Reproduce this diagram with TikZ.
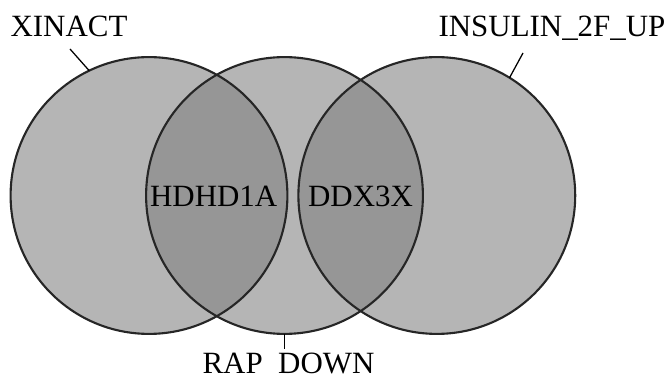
\documentclass[tikz,border=0pt]{standalone}
\usepackage{fontspec}
\setmainfont{Liberation Serif}
\usepackage{tikz}
\usepackage{xcolor}
\definecolor{setgray}{gray}{0.71}
\definecolor{overgray}{gray}{0.59}
\definecolor{rimgray}{gray}{0.15}

\begin{document}
\begin{tikzpicture}[
  setlabel/.style={font=\fontsize{22}{26}\selectfont, inner sep=0pt, anchor=base},
  rim/.style={draw=rimgray, line width=1.5pt},
  leader/.style={draw=black, line width=0.9pt}]
\def\rad{3.46}
\useasboundingbox(0,0)rectangle(16.725,9.5);
\coordinate(xin)at(3.725,4.6125);% centre of the left set
\coordinate(rap)at(7.1125,4.6125);% centre of the middle set
\coordinate(ins)at(10.92,4.6125);% centre of the right set
\fill[setgray](xin)circle(\rad) (rap)circle(\rad) (ins)circle(\rad);
\begin{scope}% the two overlaps, darker
\clip(rap)circle(\rad);
\fill[overgray](xin)circle(\rad) (ins)circle(\rad);
\end{scope}
\draw[rim](xin)circle(\rad) (rap)circle(\rad) (ins)circle(\rad);

% set names
\node[setlabel](xinact-lbl)at(1.725,8.575){XINACT};
\node[setlabel](insulin-lbl)at(13.8,8.575){INSULIN\_2F\_UP};
\node[setlabel](rapdown-lbl)at(7.2125,0.16){RAP\phantom{\_}DOWN};
% shared genes
\node[setlabel](hdhd1a)at(5.3425,4.3325){HDHD1A};
\node[setlabel](ddx3x)at(9.0125,4.3325){DDX3X};

% leader lines, label to rim
\path(xin)++(115.6:\rad)coordinate(xin-rim);
\path(ins)++(58.3:\rad)coordinate(ins-rim);
\path(rap)++(270:\rad)coordinate(rap-rim);
\coordinate(xin-tick)at(1.75,8.275);
\coordinate(ins-tick)at(13.075,8.175);
\coordinate(rap-tick)at(7.1125,0.78);
\draw[leader](xin-tick)--(xin-rim);
\draw[leader](ins-tick)--(ins-rim);
\draw[leader](rap-rim)--(rap-tick);
\end{tikzpicture}
\end{document}
